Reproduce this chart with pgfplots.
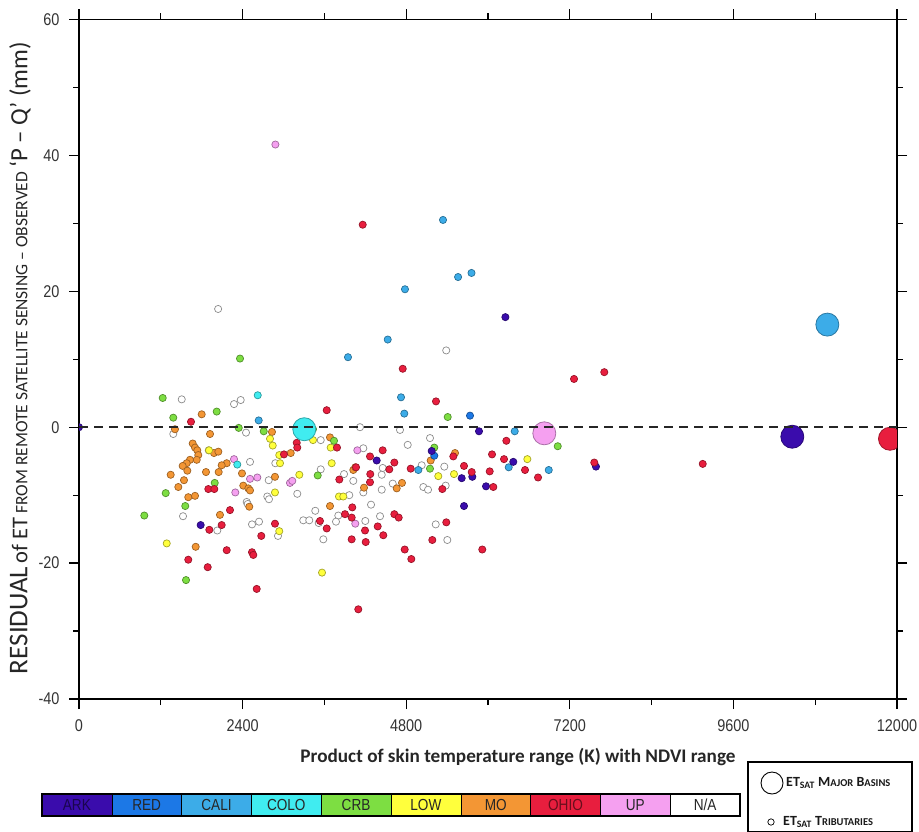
\documentclass[border=0pt]{standalone}
\usepackage{pgfplots}
\pgfplotsset{compat=1.18}
\usepackage{graphicx}
\usepackage{fontspec}
\setmainfont{Carlito}
\newfontfamily\tickfont{Liberation Sans}[FakeStretch=0.85]
\definecolor{ark}{RGB}{58,12,172}
\definecolor{redb}{RGB}{28,120,230}
\definecolor{cali}{RGB}{60,172,232}
\definecolor{colo}{RGB}{64,236,240}
\definecolor{crb}{RGB}{125,222,66}
\definecolor{low}{RGB}{255,255,60}
\definecolor{mo}{RGB}{243,150,52}
\definecolor{ohio}{RGB}{232,30,62}
\definecolor{up}{RGB}{245,160,240}
\pgfplotsset{
  pt/.style={only marks, mark=*, mark size=3.6bp, mark options={fill=#1, draw=#1!65!black, line width=0.7bp}},
  big/.style={only marks, mark=*, mark size=11.5bp, mark options={fill=#1, draw=#1!70!black, line width=0.8bp}},
}
\begin{document}
\begin{tikzpicture}
\path[use as bounding box] (0,0) rectangle (919bp,-832bp);
\begin{axis}[
  at={(79bp,-699bp)}, anchor=south west,
  scale only axis, width=818bp, height=679.5bp,
  xmin=0, xmax=12000, ymin=-40, ymax=60,
  scaled x ticks=false, scaled y ticks=false,
  xtick={0,2400,4800,7200,9600,12000},
  xticklabels={0,2400,4800,7200,9600,12000},
  ytick={-40,-20,0,20,40,60},
  yticklabels={-40,-20,0,20,40,60},
  minor xtick={1200,3600,6000,8400,10800},
  minor ytick={-30,-10,10,30,50},
  tick align=outside,
  major tick length=10bp, minor tick length=6bp,
  axis line style={line width=1.6bp},
  every tick/.style={black, line width=1.3bp},
  ticklabel style={font=\tickfont\fontsize{17bp}{20bp}\selectfont, text=black!80},
  xticklabel style={yshift=-7bp},
  yticklabel style={xshift=-6bp},
  clip marker paths=true,
]
% N/A
\addplot[only marks, mark=*, mark size=3.6bp, mark options={fill=white, draw=black!45, line width=0.7bp}] coordinates {
(2041,17.4) (5387,11.3) (1507,4.1) (2274,3.4) (2372,4.0) (1383,-1.0) (2450,-0.8) (3546,-1.9) (1903,-3.4) (2880,-5.3)
(2509,-5.1) (2783,-7.8) (3202,-9.8) (2762,-10.2) (2787,-10.6) (2460,-11.0) (2475,-11.3) (1526,-13.1) (2538,-14.3) (2641,-13.9)
(2029,-15.2) (2919,-16.0) (3290,-13.7) (3378,-13.7) (3466,-12.3) (3546,-6.2) (3888,-6.9) (4024,-7.9) (4171,-3.1) (3965,-10.0)
(4171,-9.6) (4284,-11.4) (3584,-16.5) (3516,-14.1) (3804,-13.0) (3770,-13.9) (4200,-13.8) (4122,0.0) (4709,-0.4) (5149,-1.6)
(4822,-2.6) (4455,-6.0) (5027,-5.6) (5359,-5.8) (5379,-8.6) (5051,-8.8) (5120,-9.2) (4602,-8.3) (4441,-9.2) (4441,-7.0)
(4416,-13.1) (5233,-14.3) (5403,-16.6)
};
% MO
\addplot[pt=mo] coordinates {
(1800,1.9) (1408,-0.3) (1922,-1.0) (2831,-0.7) (3682,-1.5) (3106,-3.8) (1668,-2.4) (1702,-3.0) (1735,-3.4) (1750,-4.1)
(1727,-4.8) (1628,-4.8) (1580,-5.3) (1521,-5.7) (1589,-6.4) (1345,-7.0) (1540,-7.8) (1457,-8.8) (1603,-10.3) (1702,-10.1)
(1863,-6.6) (2049,-6.6) (2167,-5.3) (2093,-5.6) (1980,-3.8) (2044,-3.6) (2391,-6.8) (2410,-8.6) (2484,-9.0) (2509,-9.3)
(2498,-11.7) (2068,-12.9) (1712,-17.6) (2875,-7.3) (3682,-11.6) (4024,-6.3) (4053,-5.9) (4181,-8.9) (5516,-3.8) (5159,-4.9)
(4661,-9.0) (4738,-8.2)
};
% LOW
\addplot[pt=low] coordinates {
(2802,-1.7) (2842,-2.7) (3433,-1.9) (3692,-3.0) (2938,-4.1) (2949,-5.3) (3232,-7.0) (3707,-5.3) (3814,-10.2) (3877,-10.2)
(2875,-9.6) (1287,-17.1) (2938,-15.3) (3565,-21.4) (6577,-4.7) (5271,-7.2) (5501,-6.9) (1907,-3.4)
};
% CRB
\addplot[pt=crb] coordinates {
(2362,10.1) (1228,4.3) (2020,2.3) (1383,1.4) (2343,-0.1) (2710,-0.6) (3433,-0.3) (3741,-2.0) (1991,-8.2) (3502,-7.1)
(1272,-9.7) (1559,-11.6) (958,-13.0) (1570,-22.5) (5409,1.5) (7023,-2.8) (5212,-3.0) (5149,-6.1)
};
% UP
\addplot[pt=up] coordinates {
(2881,41.6) (2274,-4.7) (2509,-7.6) (2616,-7.4) (2293,-9.6) (3095,-8.2) (3129,-7.9) (4083,-3.4) (4053,-14.2)
};
% COLO
\addplot[pt=colo] coordinates {(2622,4.7) (2322,-5.5)};
% CALI
\addplot[pt=cali] coordinates {
(5340,30.5) (5561,22.1) (5758,22.7) (4782,20.3) (4529,12.9) (3946,10.3) (4724,4.4) (4772,2.0) (6392,-0.6) (4978,-6.3)
(6891,-6.3) (6304,-5.9) (2636,1.0)
};
% RED
\addplot[pt=redb] coordinates {(5736,1.7) (5212,-4.2)};
% ARK
\addplot[pt=ark] coordinates {
(0,0) (6255,16.2) (1785,-14.4) (4367,-4.9) (5868,-0.6) (5174,-3.5) (5614,-7.5) (5770,-7.3) (5971,-8.7) (6371,-5.1)
(7584,-5.8) (5648,-11.6)
};
% OHIO
\addplot[pt=ohio] coordinates {
(4162,29.8) (7262,7.1) (7706,8.1) (4749,8.6) (5237,3.8) (3634,2.5) (1643,0.8) (3194,-2.3) (3202,-3.0) (3007,-4.0)
(3785,-3.0) (1897,-9.1) (1985,-9.1) (2215,-12.2) (2093,-14.4) (1912,-15.1) (2674,-16.0) (2875,-14.2) (2167,-18.1) (2538,-18.4)
(2557,-18.8) (1603,-19.5) (1888,-20.6) (2607,-23.8) (3819,-7.7) (4269,-4.3) (4273,-6.9) (4269,-8.1) (4009,-11.8) (3902,-12.8)
(4000,-13.3) (3634,-14.9) (3535,-13.8) (4000,-16.5) (4196,-15.2) (4206,-16.9) (4382,-14.6) (4097,-26.8) (4064,-5.9) (4455,-3.4)
(4626,-5.2) (4552,-6.2) (4866,-6.1) (5491,-4.3) (5648,-5.7) (5761,-6.6) (5330,-9.1) (6059,-4.0) (6025,-6.5) (6078,-8.8)
(6235,-4.7) (6269,-2.0) (6543,-6.3) (6734,-7.4) (7559,-5.2) (4626,-12.8) (4690,-13.3) (4464,-15.9) (5388,-14.0) (5183,-16.6)
(4778,-18.0) (4875,-19.4) (5916,-18.0) (9150,-5.4)
};
% major basins
\addplot[big=colo] coordinates {(3305,-0.3)};
\addplot[big=up] coordinates {(6826,-0.9)};
\addplot[big=ark] coordinates {(10464,-1.4)};
\addplot[big=cali] coordinates {(10978,15.1)};
\addplot[big=ohio] coordinates {(11897,-1.7)};
% zero line
\addplot[black!85, line width=1.8bp, dash pattern=on 9bp off 6bp] coordinates {(0,0) (12000,0)};
\end{axis}
% axis labels
\node[rotate=90, text=black!85] at (20bp,-358bp) {\resizebox{632bp}{!}{%
{\fontsize{24bp}{24bp}\selectfont RESIDUAL}{\fontsize{20bp}{20bp}\selectfont\,of ET\,}{\fontsize{15.5bp}{15.5bp}\selectfont FROM REMOTE SATELLITE SENSING – OBSERVED\ }{\fontsize{22bp}{22bp}\selectfont ‘P – Q’ (mm)}}};
\node[text=black!85] at (518bp,-757bp) {\resizebox{435bp}{!}{\bfseries Product of skin temperature range (K) with NDVI range}};
% colour legend bar
\foreach \c/\t/\tc [count=\i from 0] in {ark/ARK/ark!45!black, redb/RED/black!85, cali/CALI/black!85, colo/COLO/black!85, crb/CRB/black!85, low/LOW/black!85, mo/MO/black!85, ohio/OHIO/ohio!45!black, up/UP/black!85, white/{N{/}A}/black!85} {
  \fill[\c] ({42bp+69.8bp*\i},-794bp) rectangle ({42bp+69.8bp*(\i+1)},-816bp);
  \draw[black, line width=0.6bp] ({42bp+69.8bp*\i},-794bp) -- ({42bp+69.8bp*\i},-816bp);
  \node[text=\tc, font=\tickfont\fontsize{16bp}{16bp}\selectfont] at ({42bp+69.8bp*(\i+0.5)},-805bp) {\t};
}
\draw[black, line width=2.4bp] (42bp,-794bp) rectangle (740bp,-816bp);
% basin legend box
\draw[black, line width=1.3bp] (748bp,-762bp) rectangle (912bp,-831.5bp);
\draw[black, line width=0.9bp, fill=white] (772bp,-783bp) circle (11bp);
\node[anchor=west, inner sep=0pt, text=black!90, font=\bfseries\fontsize{14bp}{14bp}\selectfont] at (786bp,-783bp) {ET\textsubscript{SAT} M{\fontsize{10.5bp}{10.5bp}\selectfont AJOR} B{\fontsize{10.5bp}{10.5bp}\selectfont ASINS}};
\draw[black, line width=0.7bp, fill=white] (771bp,-822bp) circle (3.2bp);
\node[anchor=west, inner sep=0pt, text=black!90, font=\bfseries\fontsize{14bp}{14bp}\selectfont] at (783bp,-822bp) {ET\textsubscript{SAT} T{\fontsize{10.5bp}{10.5bp}\selectfont RIBUTARIES}};
\end{tikzpicture}
\end{document}
